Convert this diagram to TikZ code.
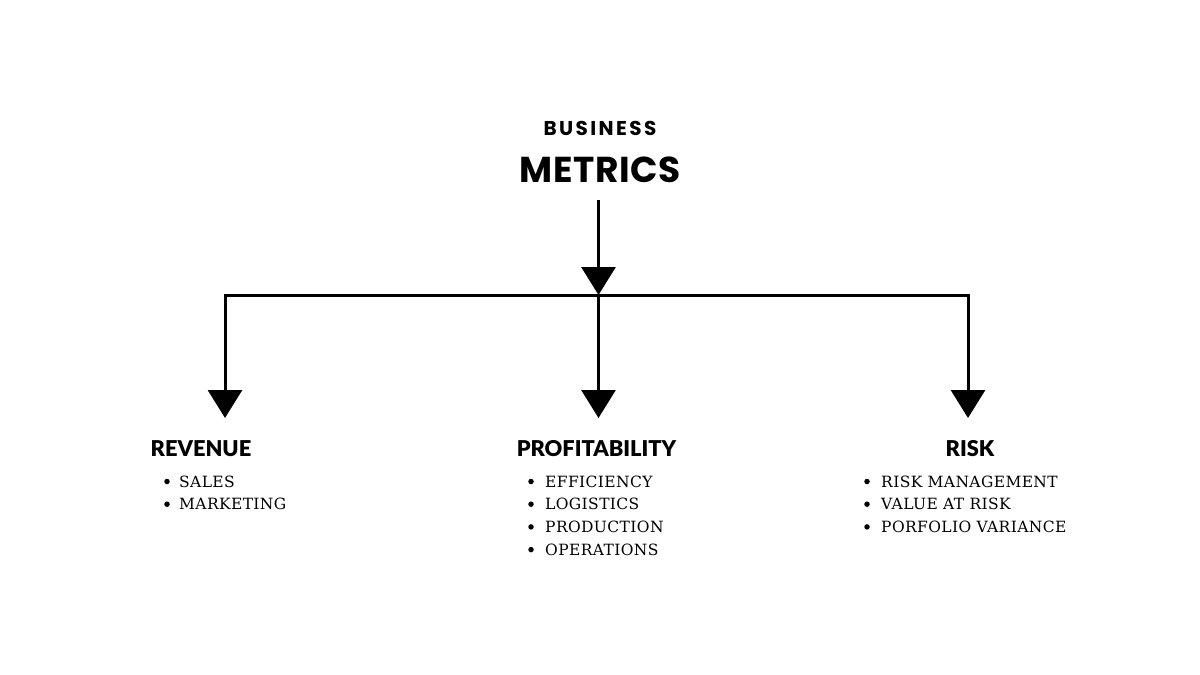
\documentclass[tikz,border=0pt]{standalone}
\usepackage{fontspec}
\usetikzlibrary{arrows.meta}
\newfontfamily\popfont{Poppins}[LetterSpace=12]
\newfontfamily\popmain{Poppins}[LetterSpace=1.5]
\newfontfamily\headfont{Lato Black}
\newfontfamily\itemfont{DejaVu Serif}[LetterSpace=2.5]
\tikzset{
  conn/.style={line width=3pt, -{Triangle[width=34pt,length=28pt]}},
  subtitle/.style={font=\popfont\bfseries\fontsize{20}{22}\selectfont, anchor=base, inner sep=0pt},
  maintitle/.style={font=\popmain\bfseries\fontsize{36}{40}\selectfont, anchor=base, inner sep=0pt},
  heading/.style={font=\headfont\fontsize{21.8}{26}\selectfont, anchor=base, inner sep=0pt},
  itemtext/.style={font=\itemfont\fontsize{15.5}{20}\selectfont, anchor=base west, inner sep=0pt},
  bulletdot/.style={circle, fill=black, inner sep=0pt, minimum size=5.5pt}
}
\begin{document}
\begin{tikzpicture}[x=1pt,y=-1pt]
\useasboundingbox[fill=white] (0,0) rectangle (1200,675);
% titles
\node[subtitle] (business) at (600,135) {BUSINESS};
\node[maintitle] (metrics) at (600,182) {METRICS};
% connectors
\coordinate (start) at (598.5,200);
\coordinate (hub) at (598.5,295);
\coordinate (revtip) at (225,418);
\coordinate (protip) at (598.5,418);
\coordinate (risktip) at (968,418);
\draw[conn] (start) -- (hub);
\draw[conn] (hub) -| (revtip);
\draw[conn] (hub) -| (risktip);
\draw[conn] (hub) -- (protip);
% headings
\node[heading] (revenue) at (201,456) {REVENUE};
\node[heading] (profit) at (596.5,456) {PROFITABILITY};
\node[heading] (risk) at (970,456) {RISK};
% lists
\foreach \t [count=\i] in {SALES,MARKETING}{
  \node[bulletdot] (revb\i) at (167,{481.5+(\i-1)*22.7}) {};
  \node[itemtext] (revi\i) at (179,{487+(\i-1)*22.7}) {\t};
}
\foreach \t [count=\i] in {EFFICIENCY,LOGISTICS,PRODUCTION,OPERATIONS}{
  \node[bulletdot] (prob\i) at (531,{481.5+(\i-1)*22.7}) {};
  \node[itemtext] (proi\i) at (545,{487+(\i-1)*22.7}) {\t};
}
\foreach \t [count=\i] in {RISK MANAGEMENT,VALUE AT RISK,PORFOLIO VARIANCE}{
  \node[bulletdot] (riskb\i) at (867,{481.5+(\i-1)*22.7}) {};
  \node[itemtext] (riski\i) at (881,{487+(\i-1)*22.7}) {\t};
}
\end{tikzpicture}
\end{document}
